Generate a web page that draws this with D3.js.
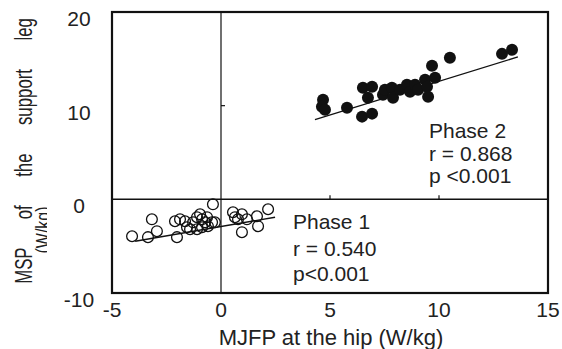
<!DOCTYPE html>
<html>
<head>
<meta charset="utf-8">
<script src="https://cdn.jsdelivr.net/npm/d3@7"></script>
<style>
  html, body { margin: 0; padding: 0; background: #fff; }
  svg { display: block; font-family: "Liberation Sans", Arial, sans-serif; }
</style>
</head>
<body>
<svg id="chart" width="562" height="349"></svg>
<script>
// Phase 1 (open circles)
const phase1X = [-4.08, -3.35, -2.94, -3.17, -2.02, -2.11, -1.88, -1.65, -1.56, -1.42,
  -1.28, -1.10, -0.96, -0.87, -0.73, -0.64, -0.60, -0.87, -1.10, -0.41,
  -0.37, -0.28, 0.55, 0.64, 0.78, 0.96, 1.19, 0.96, 1.65, 1.70, 2.16];
const phase1Y = [-3.94, -4.04, -3.40, -2.13, -4.04, -2.34, -2.13, -2.34, -2.98, -3.19,
  -2.45, -1.91, -1.60, -2.13, -2.45, -1.91, -2.87, -2.98, -3.19, -2.45,
  -0.53, -2.45, -1.38, -1.91, -2.13, -1.60, -2.13, -3.51, -1.81, -2.87, -1.06];

// Phase 2 (filled circles)
const phase2X = [4.68, 4.63, 4.77, 5.78, 6.51, 6.93, 6.47, 6.93, 6.74, 7.43,
  7.52, 7.84, 7.89, 8.21, 8.53, 8.67, 8.90, 9.04, 9.36, 9.45, 9.50, 9.68, 9.82,
  10.50, 12.89, 13.35];
const phase2Y = [10.64, 9.89, 9.57, 9.79, 11.91, 12.02, 8.83, 9.15, 10.85, 11.17,
  11.70, 11.91, 10.85, 11.70, 12.23, 11.49, 12.23, 11.70, 12.77, 12.02, 10.96, 14.26, 12.98,
  15.11, 15.53, 15.96];

// regression lines: [slope, intercept], x extent
const phase1Fit = [0.399, -2.90];
const phase1FitX = [-3.94, 2.48];
const phase2Fit = [0.719, 5.41];
const phase2FitX = [4.31, 13.62];

const xTicks = [-5, 0, 5, 10, 15];
const yTicks = [-10, 0, 10, 20];
const innerXTicks = [5, 10];
const innerYTicks = [10];

const phase1Text = ["Phase 1", "r = 0.540", "p<0.001"];
const phase2Text = ["Phase 2", "r = 0.868", "p <0.001"];

const width = 562, height = 349;
const margin = { top: 12, right: 14, bottom: 56, left: 112 };

const svg = d3.select("#chart");

const x = d3.scaleLinear().domain([-5, 15]).range([margin.left, width - margin.right]);
const y = d3.scaleLinear().domain([-10, 20]).range([height - margin.bottom, margin.top]);

// zero lines
svg.append("line")
  .attr("x1", x(0)).attr("x2", x(0))
  .attr("y1", y(20)).attr("y2", y(-10))
  .attr("stroke", "#111").attr("stroke-width", 1.2);
svg.append("line")
  .attr("x1", x(-5)).attr("x2", x(15))
  .attr("y1", y(0)).attr("y2", y(0))
  .attr("stroke", "#111").attr("stroke-width", 1.5);

// small ticks sitting on the zero lines
svg.append("g")
  .selectAll("line")
  .data(innerXTicks)
  .join("line")
  .attr("x1", (d) => x(d)).attr("x2", (d) => x(d))
  .attr("y1", y(0)).attr("y2", y(0) - 4)
  .attr("stroke", "#111").attr("stroke-width", 1.2);
svg.append("g")
  .selectAll("line")
  .data(innerYTicks)
  .join("line")
  .attr("x1", x(0)).attr("x2", x(0) + 4)
  .attr("y1", (d) => y(d)).attr("y2", (d) => y(d))
  .attr("stroke", "#111").attr("stroke-width", 1.2);

// frame
svg.append("rect")
  .attr("x", x(-5)).attr("y", y(20))
  .attr("width", x(15) - x(-5)).attr("height", y(-10) - y(20))
  .attr("fill", "none").attr("stroke", "#111").attr("stroke-width", 2.2);

// tick labels
svg.append("g")
  .selectAll("text")
  .data(xTicks)
  .join("text")
  .attr("x", (d) => x(d))
  .attr("y", y(-10) + 24)
  .attr("text-anchor", "middle")
  .attr("font-size", 21)
  .attr("fill", "#222")
  .text((d) => d);
svg.append("g")
  .selectAll("text")
  .data(yTicks)
  .join("text")
  .attr("x", 79)
  .attr("y", (d) => y(d) + 14)
  .attr("text-anchor", "middle")
  .attr("font-size", 21)
  .attr("fill", "#222")
  .text((d) => d);

// regression lines
const fitLine = (fit, ext) => ext.map((v) => [x(v), y(fit[0] * v + fit[1])]);
svg.append("path")
  .attr("d", d3.line()(fitLine(phase1Fit, phase1FitX)))
  .attr("stroke", "#111").attr("stroke-width", 1.4).attr("fill", "none");
svg.append("path")
  .attr("d", d3.line()(fitLine(phase2Fit, phase2FitX)))
  .attr("stroke", "#111").attr("stroke-width", 1.4).attr("fill", "none");

// points
svg.append("g")
  .selectAll("circle")
  .data(d3.range(phase1X.length))
  .join("circle")
  .attr("cx", (i) => x(phase1X[i]))
  .attr("cy", (i) => y(phase1Y[i]))
  .attr("r", 5.4)
  .attr("fill", "none")
  .attr("stroke", "#111")
  .attr("stroke-width", 1.3);
svg.append("g")
  .selectAll("circle")
  .data(d3.range(phase2X.length))
  .join("circle")
  .attr("cx", (i) => x(phase2X[i]))
  .attr("cy", (i) => y(phase2Y[i]))
  .attr("r", 6)
  .attr("fill", "#111");

// annotations
const annotate = (lines, ax, baselines) => {
  svg.append("g")
    .selectAll("text")
    .data(lines)
    .join("text")
    .attr("x", ax)
    .attr("y", (d, i) => baselines[i])
    .attr("font-size", 21)
    .attr("fill", "#222")
    .text((d) => d);
};
annotate(phase2Text, 429, [138, 161, 183]);
annotate(phase1Text, 293, [229, 256, 281]);

// axis titles
svg.append("text")
  .attr("x", 331)
  .attr("y", 345)
  .attr("text-anchor", "middle")
  .attr("font-size", 22)
  .attr("fill", "#222")
  .text("MJFP at the hip (W/kg)");

// y title is narrow and widely spaced in the original
svg.append("text")
  .attr("transform", "translate(32,151) rotate(-90) scale(0.7,1)")
  .attr("text-anchor", "middle")
  .attr("font-size", 24)
  .attr("word-spacing", 34)
  .attr("fill", "#222")
  .text("MSP of the support leg");

// second title line is cut off in the original
svg.append("clipPath").attr("id", "unitClip")
  .append("rect").attr("x", 0).attr("y", 0).attr("width", 47).attr("height", height);
svg.append("g")
  .attr("clip-path", "url(#unitClip)")
  .append("text")
  .attr("transform", "translate(50,230) rotate(-90) scale(0.8,1)")
  .attr("text-anchor", "middle")
  .attr("font-size", 20)
  .attr("fill", "#222")
  .text("(W/kg)");
</script>
</body>
</html>
